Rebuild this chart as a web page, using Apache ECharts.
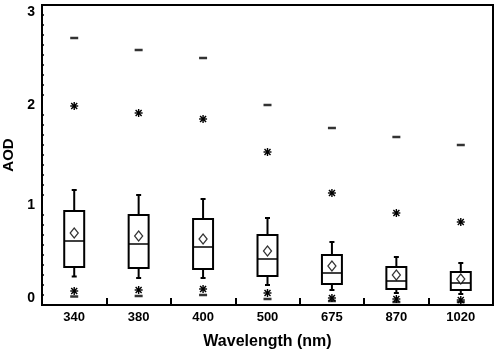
<!DOCTYPE html>
<html>
<head>
<meta charset="utf-8">
<script src="https://cdn.jsdelivr.net/npm/echarts@6/dist/echarts.min.js"></script>
<style>
  html, body { margin: 0; padding: 0; background: #fff; }
  #chart { width: 498px; height: 351px; }
</style>
</head>
<body>
<div id="chart"></div>
<script>
// Wavelength categories (nm)
const categories = ['340', '380', '400', '500', '675', '870', '1020'];
// AOD statistics per wavelength
const maxVals = [2.67, 2.55, 2.47, 2.0, 1.77, 1.68, 1.6];
const p99 = [1.99, 1.92, 1.86, 1.53, 1.12, 0.92, 0.83];
const p90 = [1.15, 1.1, 1.06, 0.87, 0.63, 0.48, 0.42];
const q3 = [0.94, 0.9, 0.86, 0.7, 0.5, 0.38, 0.33];
const median = [0.64, 0.61, 0.58, 0.46, 0.32, 0.24, 0.22];
const mean = [0.72, 0.69, 0.66, 0.54, 0.39, 0.3, 0.26];
const q1 = [0.38, 0.37, 0.36, 0.29, 0.21, 0.16, 0.15];
const p10 = [0.285, 0.27, 0.27, 0.2, 0.15, 0.12, 0.11];
const p1 = [0.14, 0.15, 0.16, 0.12, 0.07, 0.06, 0.05];
const minVals = [0.085, 0.09, 0.1, 0.06, 0.04, 0.03, 0.03];
const yTicks = [0, 1, 2, 3];

const FONT = "'Liberation Sans', Arial, sans-serif";

const boxData = categories.map((c, i) => [i, p10[i], q1[i], median[i], q3[i], p90[i]]);
const starData = [];
categories.forEach((c, i) => {
  starData.push([i, p99[i]]);
  starData.push([i, p1[i]]);
});
const dashData = [];
categories.forEach((c, i) => {
  dashData.push([i, maxVals[i]]);
  dashData.push([i, minVals[i]]);
});

const chart = echarts.init(document.getElementById('chart'));

const option = {
  animation: false,
  grid: {
    left: 42,
    right: 5,
    top: 5,
    bottom: 46,
    outerBoundsMode: 'none',
    containLabel: false,
    show: true,
    borderColor: '#000',
    borderWidth: 2,
    backgroundColor: 'transparent',
  },
  xAxis: {
    type: 'category',
    data: categories,
    boundaryGap: true,
    name: 'Wavelength (nm)',
    nameLocation: 'middle',
    nameGap: 29,
    nameTextStyle: { fontFamily: FONT, fontWeight: 'bold', fontSize: 16, color: '#000' },
    axisLine: { lineStyle: { color: '#000', width: 2 } },
    axisTick: { show: true, inside: true, interval: 0, length: 7, lineStyle: { color: '#000', width: 2 } },
    axisLabel: { fontFamily: FONT, fontWeight: 'bold', fontSize: 13, color: '#000', margin: 6, interval: 0 },
    splitLine: { show: false },
  },
  yAxis: {
    type: 'value',
    min: yTicks[0],
    max: yTicks[yTicks.length - 1],
    interval: 1,
    name: 'AOD',
    nameLocation: 'middle',
    nameGap: 24,
    nameTextStyle: { fontFamily: FONT, fontWeight: 'bold', fontSize: 15, color: '#000' },
    axisLine: { show: true, lineStyle: { color: '#000', width: 2 } },
    axisTick: { inside: true, length: 4, lineStyle: { color: '#000', width: 2 } },
    minorTick: { show: true, splitNumber: 10, length: 2, lineStyle: { color: '#000', width: 1.5 } },
    axisLabel: {
      fontFamily: FONT, fontWeight: 'bold', fontSize: 14, color: '#000', margin: 7,
      verticalAlignMaxLabel: 'top',
      verticalAlignMinLabel: 'bottom',
    },
    splitLine: { show: false },
  },
  series: [
    {
      // boxes with 10th/90th percentile whiskers
      type: 'custom',
      data: boxData,
      z: 3,
      renderItem: (params, api) => {
        const idx = api.value(0);
        const half = api.size([1, 0])[0] * 0.155;
        const cap = 2.5;
        const lo = api.coord([idx, api.value(1)]);
        const b1 = api.coord([idx, api.value(2)]);
        const md = api.coord([idx, api.value(3)]);
        const b3 = api.coord([idx, api.value(4)]);
        const hi = api.coord([idx, api.value(5)]);
        const x = lo[0];
        const st = { stroke: '#000', lineWidth: 2, fill: null };
        return {
          type: 'group',
          children: [
            { type: 'line', shape: { x1: x, y1: hi[1], x2: x, y2: b3[1] }, style: st },
            { type: 'line', shape: { x1: x - cap, y1: hi[1], x2: x + cap, y2: hi[1] }, style: st },
            { type: 'line', shape: { x1: x, y1: b1[1], x2: x, y2: lo[1] }, style: st },
            { type: 'line', shape: { x1: x - cap, y1: lo[1], x2: x + cap, y2: lo[1] }, style: st },
            { type: 'rect', shape: { x: x - half, y: b3[1], width: half * 2, height: b1[1] - b3[1] }, style: { stroke: '#000', lineWidth: 2, fill: '#fff' } },
            { type: 'line', shape: { x1: x - half, y1: md[1], x2: x + half, y2: md[1] }, style: { stroke: '#000', lineWidth: 1.5 } },
          ],
        };
      },
    },
    {
      // mean values
      type: 'scatter',
      data: categories.map((c, i) => [i, mean[i]]),
      symbol: 'diamond',
      symbolSize: [8, 10],
      z: 4,
      itemStyle: { color: '#fff', borderColor: '#000', borderWidth: 1.3 },
    },
    {
      // 1st / 99th percentiles
      type: 'custom',
      data: starData,
      z: 4,
      renderItem: (params, api) => {
        const p = api.coord([api.value(0), api.value(1)]);
        const r = 4;
        const d = r * 0.75;
        const st = { stroke: '#000', lineWidth: 1.4 };
        return {
          type: 'group',
          children: [
            { type: 'line', shape: { x1: p[0] - r, y1: p[1], x2: p[0] + r, y2: p[1] }, style: st },
            { type: 'line', shape: { x1: p[0], y1: p[1] - r, x2: p[0], y2: p[1] + r }, style: st },
            { type: 'line', shape: { x1: p[0] - d, y1: p[1] - d, x2: p[0] + d, y2: p[1] + d }, style: st },
            { type: 'line', shape: { x1: p[0] - d, y1: p[1] + d, x2: p[0] + d, y2: p[1] - d }, style: st },
            { type: 'circle', shape: { cx: p[0], cy: p[1], r: 1.6 }, style: { fill: '#000' } },
          ],
        };
      },
    },
    {
      // min / max
      type: 'scatter',
      data: dashData,
      symbol: 'rect',
      symbolSize: [8, 2.5],
      z: 4,
      itemStyle: { color: '#000' },
    },
  ],
};

chart.setOption(option);
</script>
</body>
</html>
